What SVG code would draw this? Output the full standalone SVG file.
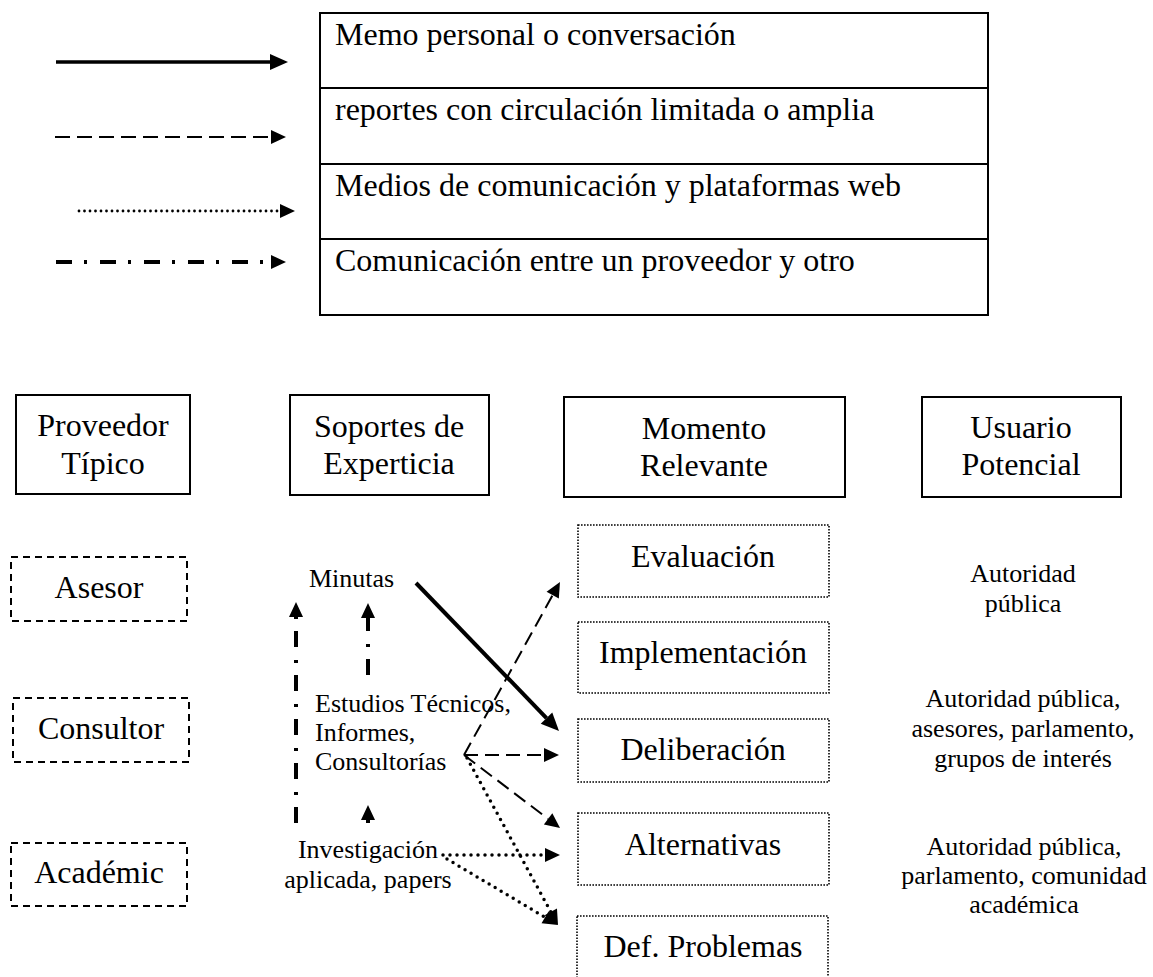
<svg xmlns="http://www.w3.org/2000/svg" width="1153" height="977" viewBox="0 0 1153 977">
<style>
  text { font-family: "Liberation Serif", "Times New Roman", serif; fill: #000; }
  .leg { font-size: 32px; }
  .hdr { font-size: 32px; text-anchor: middle; }
  .mid { font-size: 32px; text-anchor: middle; }
  .sm { font-size: 26px; }
  .smc { font-size: 26px; text-anchor: middle; }
  .solidbox { fill: #fff; stroke: #000; stroke-width: 2; }
  .dashbox { fill: none; stroke: #000; stroke-width: 2; stroke-dasharray: 7 5; }
  .dotbox { fill: none; stroke: #000; stroke-width: 1.6; stroke-dasharray: 1.6 1.4; }
  .c-solid { fill: none; stroke: #000; stroke-width: 4; }
  .c-dash { fill: none; stroke: #000; stroke-width: 2; stroke-dasharray: 14 7; }
  .c-dot { fill: none; stroke: #000; stroke-width: 3.5; stroke-dasharray: 0 7; stroke-linecap: round; }
  .c-dashdot { fill: none; stroke: #000; stroke-width: 4; stroke-dasharray: 16 12 3 13; }
  .l-solid { fill: none; stroke: #000; stroke-width: 3.5; }
  .l-dash { fill: none; stroke: #000; stroke-width: 2; stroke-dasharray: 15 7; }
  .l-dot { fill: none; stroke: #000; stroke-width: 2.8; stroke-dasharray: 0 5.5; stroke-linecap: round; }
  .l-dashdot { fill: none; stroke: #000; stroke-width: 4; stroke-dasharray: 16 12 3 13; }
</style>
<defs>
  <marker id="ah" markerUnits="userSpaceOnUse" markerWidth="16" markerHeight="14" refX="0" refY="7" orient="auto" overflow="visible">
    <path d="M0,0 L15,7 L0,14 z" fill="#000"/>
  </marker>
  <marker id="ahBig" markerUnits="userSpaceOnUse" markerWidth="18" markerHeight="16" refX="0" refY="8" orient="auto" overflow="visible">
    <path d="M0,0 L18,8 L0,16 z" fill="#000"/>
  </marker>
</defs>

<!-- Legend -->
<g id="legend">
  <path class="l-solid" d="M56,62 L270,62" marker-end="url(#ahBig)"/>
  <path class="l-dash" d="M55,137 L271,137" marker-end="url(#ah)"/>
  <path class="l-dot" d="M79,211 L280,211" marker-end="url(#ah)"/>
  <path class="l-dashdot" d="M56,262 L271,262" marker-end="url(#ah)"/>
  <rect class="solidbox" x="320" y="13" width="668" height="302"/>
  <line x1="320" y1="88" x2="988" y2="88" stroke="#000" stroke-width="2"/>
  <line x1="320" y1="164" x2="988" y2="164" stroke="#000" stroke-width="2"/>
  <line x1="320" y1="239" x2="988" y2="239" stroke="#000" stroke-width="2"/>
  <text class="leg" x="335" y="45">Memo personal o conversación</text>
  <text class="leg" x="335" y="120">reportes con circulación limitada o amplia</text>
  <text class="leg" x="335" y="196">Medios de comunicación y plataformas web</text>
  <text class="leg" x="335" y="271">Comunicación entre un proveedor y otro</text>
</g>

<!-- Column headers -->
<g id="hdr-proveedor">
  <rect class="solidbox" x="16" y="395" width="174" height="99"/>
  <text class="hdr" x="103" y="436">Proveedor</text>
  <text class="hdr" x="103" y="474">Típico</text>
</g>
<g id="hdr-soportes">
  <rect class="solidbox" x="290" y="395" width="199" height="100"/>
  <text class="hdr" x="389" y="437">Soportes de</text>
  <text class="hdr" x="389" y="474">Experticia</text>
</g>
<g id="hdr-momento">
  <rect class="solidbox" x="564" y="397" width="281" height="100"/>
  <text class="hdr" x="704" y="439">Momento</text>
  <text class="hdr" x="704" y="476">Relevante</text>
</g>
<g id="hdr-usuario">
  <rect class="solidbox" x="922" y="397" width="199" height="100"/>
  <text class="hdr" x="1021" y="438">Usuario</text>
  <text class="hdr" x="1021" y="475">Potencial</text>
</g>

<!-- Providers -->
<g id="asesor">
  <rect class="dashbox" x="11" y="557" width="176" height="64"/>
  <text class="mid" x="99" y="598">Asesor</text>
</g>
<g id="consultor">
  <rect class="dashbox" x="13" y="698" width="176" height="64"/>
  <text class="mid" x="101" y="739">Consultor</text>
</g>
<g id="academic">
  <rect class="dashbox" x="11" y="843" width="176" height="63"/>
  <text class="mid" x="99" y="883">Académic</text>
</g>

<!-- Supports -->
<g id="minutas">
  <text class="sm" x="309" y="587">Minutas</text>
</g>
<g id="estudios">
  <text class="sm" x="315" y="712">Estudios Técnicos,</text>
  <text class="sm" x="315" y="741">Informes,</text>
  <text class="sm" x="315" y="770">Consultorías</text>
</g>
<g id="investigacion">
  <text class="smc" x="368" y="858">Investigación</text>
  <text class="smc" x="368" y="888">aplicada, papers</text>
</g>

<!-- Moments -->
<g id="evaluacion">
  <rect class="dotbox" x="578" y="525" width="251" height="72"/>
  <text class="mid" x="703" y="567">Evaluación</text>
</g>
<g id="implementacion">
  <rect class="dotbox" x="578" y="622" width="251" height="71"/>
  <text class="mid" x="703" y="663">Implementación</text>
</g>
<g id="deliberacion">
  <rect class="dotbox" x="578" y="719" width="251" height="63"/>
  <text class="mid" x="703" y="760">Deliberación</text>
</g>
<g id="alternativas">
  <rect class="dotbox" x="578" y="813" width="251" height="72"/>
  <text class="mid" x="703" y="855">Alternativas</text>
</g>
<g id="defproblemas">
  <rect class="dotbox" x="577" y="916" width="251" height="74"/>
  <text class="mid" x="703" y="957">Def. Problemas</text>
</g>

<!-- Users -->
<g id="usuario1">
  <text class="smc" x="1023" y="582">Autoridad</text>
  <text class="smc" x="1023" y="612">pública</text>
</g>
<g id="usuario2">
  <text class="smc" x="1023" y="707">Autoridad pública,</text>
  <text class="smc" x="1023" y="737">asesores, parlamento,</text>
  <text class="smc" x="1023" y="767">grupos de interés</text>
</g>
<g id="usuario3">
  <text class="smc" x="1024" y="855">Autoridad pública,</text>
  <text class="smc" x="1024" y="884">parlamento, comunidad</text>
  <text class="smc" x="1024" y="913">académica</text>
</g>

<!-- Connectors -->
<g id="connectors">
  <path class="c-solid" d="M416,583 L546.5,718.1" marker-end="url(#ahBig)"/>
  <path class="c-dash" d="M464,755 L552.7,595.1" marker-end="url(#ah)"/>
  <path class="c-dash" d="M464,755 L544,755" marker-end="url(#ah)"/>
  <path class="c-dash" d="M464,755 L548.1,818.9" marker-end="url(#ah)"/>
  <path class="c-dot" d="M467,758 L550.8,911.8" marker-end="url(#ah)"/>
  <path class="c-dot" d="M443,855 L545,855" marker-end="url(#ah)"/>
  <path class="c-dot" d="M447,859 L545.1,917.3" marker-end="url(#ah)"/>
  <path class="c-dashdot" d="M296,823 L296,617" marker-end="url(#ah)"/>
  <path class="c-dashdot" d="M368,675 L368,618" marker-end="url(#ah)"/>
  <path class="c-dashdot" d="M368,823 L368,820" marker-end="url(#ah)"/>
</g>
</svg>
